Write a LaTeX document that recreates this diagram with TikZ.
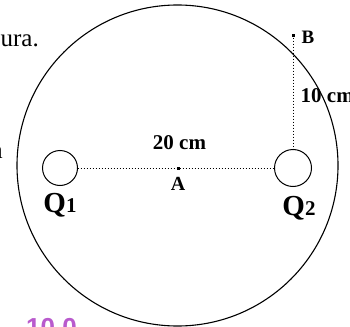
\documentclass[tikz,border=0pt]{standalone}
\usepackage{fontspec}
\setmainfont{Liberation Serif}
\newfontfamily\arialfont{Liberation Sans}
\definecolor{labpurple}{RGB}{185,90,205}
\tikzset{
  charge/.style={draw, circle, inner sep=0pt, outer sep=0pt, line width=1pt},
  ptmark/.style={fill=black, rectangle, inner sep=0pt, minimum size=3pt},
  dotline/.style={line width=1pt, dash pattern=on 1pt off 2pt},
  lab/.style={inner sep=0pt, font=\bfseries\fontsize{21}{21}\selectfont},
  smalllab/.style={inner sep=0pt, font=\bfseries\fontsize{19}{19}\selectfont},
  qlab/.style={inner sep=0pt, font=\bfseries\fontsize{29}{29}\selectfont},
  bgtext/.style={inner sep=0pt, font=\fontsize{25}{25}\selectfont}
}
\begin{document}
\begin{tikzpicture}[x=1pt,y=-1pt]
\useasboundingbox (0,0) rectangle (350,326);
\clip (0,0) rectangle (350,326);
\fill[white] (0,0) rectangle (350,326);
% page text fragments
\node[bgtext, anchor=base east] (ura) at (39,46.5) {ura.};
\node[bgtext, anchor=base east] (frag) at (3,158) {a};
\node[inner sep=0pt, anchor=north west, text=labpurple, font=\arialfont\bfseries\fontsize{26}{26}\selectfont] (num) at (26,318.5) {10.0};
% main circle
\node[draw, circle, inner sep=0pt, outer sep=0pt, minimum size=321pt, line width=1.1pt] (big) at (177.5,165.5) {};
% charges
\node[charge, minimum size=35pt] (q1) at (60,168) {};
\node[charge, minimum size=37pt] (q2) at (293,168) {};
% points
\node[ptmark] (A) at (178.5,168) {};
\node[ptmark] (B) at (293,36) {};
% connectors
\draw[dotline] (q1.east) -- (q2.west);
\draw[dotline] (B) -- (q2.north);
% labels
\node[lab] (l20) at (179.5,143) {20 cm};
\node[smalllab, font=\bfseries\fontsize{20}{20}\selectfont] (lA) at (178,184) {A};
\node[smalllab, anchor=west] (lB) at (301.5,37) {B};
\node[lab, anchor=west] (l10) at (300.5,95.5) {10 cm};
\node[qlab] (lq1) at (60,205) {Q{\fontsize{21}{21}\selectfont 1}};
\node[qlab] (lq2) at (299,208) {Q{\fontsize{21}{21}\selectfont 2}};
\end{tikzpicture}
\end{document}
